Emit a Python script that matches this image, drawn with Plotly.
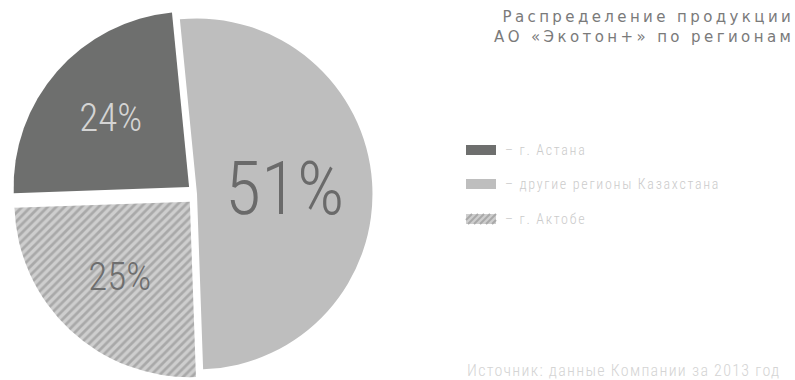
import plotly.graph_objects as go

# ---- data ----
labels = ["г. Астана", "другие регионы Казахстана", "г. Актобе"]
values = [24, 51, 25]
title_lines = ["Распределение продукции", "АО «Экотон+» по регионам"]
source_text = "Источник: данные Компании за 2013 год"

# ---- styles ----
slice_colors = ["#6e6f6e", "#bebebe", "#a9a9a9"]
pattern_bg = ["#6e6f6e", "#bebebe", "#cecece"]
pattern_shapes = ["", "", "/"]
text_colors = ["#d4d4d4", "#6a6a6a", "#6e6e6e"]
text_sizes = [39, 74, 39]
pulls = [0.06, 0.0, 0.06]
swatch_kind = ["solid", "solid", "hatch"]
NARROW = "Roboto Condensed, DejaVu Sans Condensed, Roboto"

W, H = 795, 380

fig = go.Figure()
fig.add_trace(go.Pie(
    labels=labels,
    values=values,
    sort=False,
    direction="clockwise",
    rotation=-92,
    pull=pulls,
    marker=dict(
        colors=slice_colors,
        line=dict(width=0),
        pattern=dict(shape=pattern_shapes, bgcolor=pattern_bg,
                     fgcolor=slice_colors, size=6, solidity=0.45),
    ),
    texttemplate="%{value}%",
    textposition="inside",
    insidetextorientation="horizontal",
    textfont=dict(family=NARROW, size=text_sizes, color=text_colors, weight=300),
    domain=dict(x=[0, 394 / W], y=[0, 1 - 8 / H]),
    hoverinfo="skip",
    showlegend=False,
))

def px(x):
    return x / W

def py(y):
    return 1 - y / H

shapes = []
annotations = []

# title
annotations.append(dict(
    x=px(796), y=py(6), xref="paper", yref="paper", xanchor="right", yanchor="top",
    align="right", showarrow=False,
    text="<br>".join('<span style="letter-spacing:3.4px">%s</span>' % t for t in title_lines),
    font=dict(family="DejaVu Sans", size=15, color="#7a7a7a"),
))

# custom legend
row_y = [150, 184, 219]
for lab, col, kind, yc in zip(labels, slice_colors, swatch_kind, row_y):
    X0, X1, Y0, Y1 = 466, 496, yc - 5, yc + 5
    if kind == "solid":
        shapes.append(dict(type="rect", xref="paper", yref="paper",
                           x0=px(X0), x1=px(X1), y0=py(Y1), y1=py(Y0),
                           fillcolor=col, line=dict(width=0)))
    else:
        shapes.append(dict(type="rect", xref="paper", yref="paper",
                           x0=px(X0), x1=px(X1), y0=py(Y1), y1=py(Y0),
                           fillcolor="#cecece", line=dict(width=0)))
        hh = Y1 - Y0
        c = X0 - hh
        while c < X1:
            t0 = max(0, X0 - c)
            t1 = min(hh, X1 - c)
            if t0 < t1:
                shapes.append(dict(type="line", xref="paper", yref="paper",
                                   x0=px(c + t0), y0=py(Y1 - t0),
                                   x1=px(c + t1), y1=py(Y1 - t1),
                                   line=dict(color=col, width=2)))
            c += 6
    annotations.append(dict(
        x=px(503), y=py(yc), xref="paper", yref="paper", xanchor="left", yanchor="middle",
        showarrow=False,
        text='<span style="letter-spacing:1.7px">– %s</span>' % lab,
        font=dict(family=NARROW, size=14, color="#cbcbcb", weight=300),
    ))

# source
annotations.append(dict(
    x=px(465), y=py(370), xref="paper", yref="paper", xanchor="left", yanchor="middle",
    showarrow=False,
    text='<span style="letter-spacing:1.3px">%s</span>' % source_text,
    font=dict(family=NARROW, size=16, color="#d4d4d4", weight=300),
))

fig.update_layout(
    width=W, height=H,
    margin=dict(l=0, r=0, t=0, b=0),
    paper_bgcolor="white", plot_bgcolor="white",
    shapes=shapes, annotations=annotations,
    showlegend=False,
)

fig.write_html("out.html")
